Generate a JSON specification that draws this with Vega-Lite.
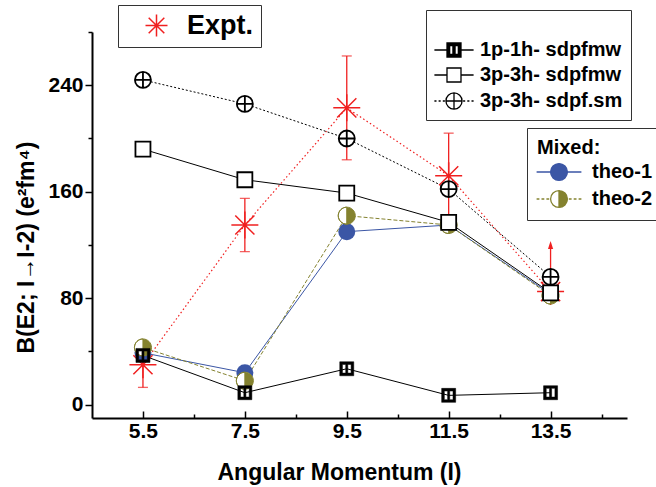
{
  "$schema": "https://vega.github.io/schema/vega-lite/v6.json",
  "autosize": {"type": "none"},
  "width": 535,
  "height": 386,
  "padding": {"left": 92, "top": 32, "right": 29, "bottom": 69},
  "background": "white",
  "config": {
    "view": {"stroke": null},
    "axis": {
      "labelFont": "Liberation Sans", "labelFontWeight": "bold", "labelFontSize": 21, "labelColor": "black",
      "titleFont": "Liberation Sans", "titleFontWeight": "bold", "titleFontSize": 23, "titleColor": "black",
      "domainColor": "black", "domainWidth": 2, "tickColor": "black", "tickWidth": 1.5, "grid": false
    },
    "legend": {
      "labelFont": "Liberation Sans", "labelFontWeight": "bold", "labelFontSize": 20, "labelColor": "black",
      "titleFont": "Liberation Sans", "titleFontWeight": "bold", "titleFontSize": 20, "titleColor": "black",
      "fillColor": "white", "strokeColor": "#333333", "orient": "none", "direction": "vertical", "symbolSize": 196, "symbolStrokeWidth": 1.3
    }
  },
  "datasets": {
    "calc": [
      {"series": "1p-1h- sdpfmw", "I": 5.5, "B": 37},
      {"series": "1p-1h- sdpfmw", "I": 7.5, "B": 9},
      {"series": "1p-1h- sdpfmw", "I": 9.5, "B": 27},
      {"series": "1p-1h- sdpfmw", "I": 11.5, "B": 7},
      {"series": "1p-1h- sdpfmw", "I": 13.5, "B": 9},
      {"series": "3p-3h- sdpfmw", "I": 5.5, "B": 192},
      {"series": "3p-3h- sdpfmw", "I": 7.5, "B": 169},
      {"series": "3p-3h- sdpfmw", "I": 9.5, "B": 159},
      {"series": "3p-3h- sdpfmw", "I": 11.5, "B": 137},
      {"series": "3p-3h- sdpfmw", "I": 13.5, "B": 84},
      {"series": "3p-3h- sdpf.sm", "I": 5.5, "B": 244},
      {"series": "3p-3h- sdpf.sm", "I": 7.5, "B": 226},
      {"series": "3p-3h- sdpf.sm", "I": 9.5, "B": 200},
      {"series": "3p-3h- sdpf.sm", "I": 11.5, "B": 162},
      {"series": "3p-3h- sdpf.sm", "I": 13.5, "B": 96},
      {"series": "theo-1", "I": 5.5, "B": 39},
      {"series": "theo-1", "I": 7.5, "B": 24},
      {"series": "theo-1", "I": 9.5, "B": 130},
      {"series": "theo-1", "I": 11.5, "B": 135},
      {"series": "theo-1", "I": 13.5, "B": 83},
      {"series": "theo-2", "I": 5.5, "B": 43},
      {"series": "theo-2", "I": 7.5, "B": 18},
      {"series": "theo-2", "I": 9.5, "B": 142},
      {"series": "theo-2", "I": 11.5, "B": 135},
      {"series": "theo-2", "I": 13.5, "B": 82}
    ],
    "expt": [
      {"series": "Expt.", "I": 5.5, "B": 30, "lo": 13, "hi": 47, "kind": "err"},
      {"series": "Expt.", "I": 7.5, "B": 135, "lo": 115, "hi": 155, "kind": "err"},
      {"series": "Expt.", "I": 9.5, "B": 223, "lo": 184, "hi": 262, "kind": "err"},
      {"series": "Expt.", "I": 11.5, "B": 172, "lo": 136, "hi": 204, "kind": "err"},
      {"series": "Expt.", "I": 13.5, "B": 85, "lo": 85, "hi": 120, "kind": "limit"}
    ]
  },
  "encoding": {
    "x": {"field": "I", "type": "quantitative",
      "scale": {"domain": [4.5, 15], "nice": false, "zero": false},
      "axis": {"title": "Angular Momentum (I)", "values": [5.5, 6.5, 7.5, 8.5, 9.5, 10.5, 11.5, 12.5, 13.5, 14.5],
        "format": ".1f",
        "labelExpr": "(datum.value - 5.5) % 2 == 0 ? datum.label : ''",
        "tickSize": {"condition": {"test": "(datum.value - 5.5) % 2 == 0", "value": -7}, "value": -4},
        "labelPadding": 9,
        "titleX": 247, "titleY": 61, "titleBaseline": "alphabetic"}},
    "y": {"field": "B", "type": "quantitative",
      "scale": {"domain": [-10, 280], "nice": false, "zero": false},
      "axis": {"title": "B(E2; I→I-2) (e²fm⁴)", "values": [0, 40, 80, 120, 160, 200, 240, 280],
        "labelExpr": "datum.value % 80 == 0 ? datum.label : ''",
        "tickSize": {"condition": {"test": "datum.value % 80 == 0", "value": 7}, "value": 4},
        "labelPadding": 2,
        "titleX": -66, "titleY": 215, "titleBaseline": "middle", "titleAlign": "center", "titleAngle": -90}}
  },
  "layer": [
    {"data": {"name": "expt"}, "mark": {"type": "line", "color": "#f02020", "strokeWidth": 1.2, "strokeDash": [1.5, 2.5]}},
    {"data": {"name": "calc"}, "transform": [{"filter": "datum.series == 'theo-1'"}], "mark": {"type": "line", "color": "#3b56a5", "strokeWidth": 1}},
    {"data": {"name": "calc"}, "transform": [{"filter": "datum.series == 'theo-2'"}], "mark": {"type": "line", "color": "#84822f", "strokeWidth": 1, "strokeDash": [4, 2]}},
    {"data": {"name": "calc"}, "transform": [{"filter": "datum.series == '1p-1h- sdpfmw'"}], "mark": {"type": "line", "color": "black", "strokeWidth": 1}},
    {"data": {"name": "calc"}, "transform": [{"filter": "datum.series == '3p-3h- sdpfmw'"}], "mark": {"type": "line", "color": "black", "strokeWidth": 1}},
    {"data": {"name": "calc"}, "transform": [{"filter": "datum.series == '3p-3h- sdpf.sm'"}], "mark": {"type": "line", "color": "black", "strokeWidth": 1, "strokeDash": [2, 2]}},
    {"data": {"name": "expt"}, "mark": {"type": "rule", "color": "#f02020", "strokeWidth": 1.3},
      "encoding": {"y": {"field": "lo", "type": "quantitative"}, "y2": {"field": "hi"}}},
    {"data": {"name": "expt"}, "transform": [{"filter": "datum.kind == 'err'"}], "mark": {"type": "tick", "orient": "horizontal", "color": "#f02020", "size": 10, "thickness": 1.3},
      "encoding": {"y": {"field": "lo", "type": "quantitative"}}},
    {"data": {"name": "expt"}, "transform": [{"filter": "datum.kind == 'err'"}], "mark": {"type": "tick", "orient": "horizontal", "color": "#f02020", "size": 10, "thickness": 1.3},
      "encoding": {"y": {"field": "hi", "type": "quantitative"}}},
    {"data": {"name": "expt"}, "transform": [{"filter": "datum.kind == 'limit'"}], "mark": {"type": "point", "shape": "M0,-1L0.65,1H-0.65Z", "filled": true, "color": "#f02020", "size": 64, "opacity": 1},
      "encoding": {"y": {"field": "hi", "type": "quantitative"}}},
    {"data": {"name": "expt"}, "mark": {"type": "point", "shape": "M0,-1V1M-1,0H1M-0.71,-0.71L0.71,0.71M-0.71,0.71L0.71,-0.71", "filled": false, "color": "#f02020", "strokeWidth": 1.5, "size": 729, "opacity": 1}},
    {"data": {"name": "calc"}, "transform": [{"filter": "datum.series == 'theo-1'"}], "mark": {"type": "point", "shape": "circle", "filled": true, "color": "#3b56a5", "size": 289, "opacity": 1}},
    {"data": {"name": "calc"}, "transform": [{"filter": "datum.series == 'theo-2'"}], "mark": {"type": "point", "shape": "circle", "filled": true, "color": "white", "size": 289, "opacity": 1}},
    {"data": {"name": "calc"}, "transform": [{"filter": "datum.series == 'theo-2'"}], "mark": {"type": "point", "shape": "M0,-1A1,1 0 0,1 0,1A1,1 0 0,1 0,-1Z M0,-1A1,1 0 0,0 0,1Z", "filled": true, "fill": "#84822f", "stroke": "#84822f", "strokeWidth": 1, "size": 289, "opacity": 1}},
    {"data": {"name": "calc"}, "transform": [{"filter": "datum.series == '1p-1h- sdpfmw'"}], "mark": {"type": "point", "shape": "M-1,-1H1V1H-1Z M-0.62,-0.62V0.62H-0.15V-0.62Z M0.15,-0.62V0.62H0.62V-0.62Z", "filled": true, "fill": "black", "stroke": "black", "strokeWidth": 0.5, "size": 196, "opacity": 1}},
    {"data": {"name": "calc"}, "transform": [{"filter": "datum.series == '3p-3h- sdpfmw'"}], "mark": {"type": "point", "shape": "square", "filled": true, "fill": "white", "stroke": "black", "strokeWidth": 1.8, "size": 225, "opacity": 1}},
    {"data": {"name": "calc"}, "transform": [{"filter": "datum.series == '3p-3h- sdpf.sm'"}], "mark": {"type": "point", "shape": "M-1,0A1,1 0 1,0 1,0A1,1 0 1,0 -1,0Z M-1,0H1M0,-1V1", "filled": true, "fill": "white", "stroke": "black", "strokeWidth": 1.8, "size": 256, "opacity": 1}},
    {"data": {"name": "expt"}, "transform": [{"filter": "false"}], "mark": {"type": "point", "opacity": 1},
      "encoding": {
        "shape": {"field": "series", "type": "nominal", "scale": {"domain": ["Expt."], "range": ["M0,-1V1M-1,0H1M-0.71,-0.71L0.71,0.71M-0.71,0.71L0.71,-0.71"]},
          "legend": {"title": null, "legendX": 26, "legendY": -27, "padding": 7, "symbolSize": 484, "symbolStrokeWidth": 1.5, "symbolOffset": 18, "labelOffset": 17, "labelFontSize": 27}},
        "stroke": {"field": "series", "type": "nominal", "scale": {"domain": ["Expt."], "range": ["#f02020"]}, "legend": {"title": null}},
        "fill": {"field": "series", "type": "nominal", "scale": {"domain": ["Expt."], "range": ["transparent"]}, "legend": {"title": null}}
      }},
    {"data": {"name": "calc"}, "transform": [{"filter": "false"}], "mark": {"type": "point", "opacity": 1},
      "encoding": {
        "shape": {"field": "series", "type": "nominal", "scale": {"domain": ["1p-1h- sdpfmw", "3p-3h- sdpfmw", "3p-3h- sdpf.sm"], "range": [
          "M-2.8,0H-1M1,0H2.8M-1,-1H1V1H-1Z M-0.62,-0.62V0.62H-0.15V-0.62Z M0.15,-0.62V0.62H0.62V-0.62Z",
          "M-2.8,0H-1M1,0H2.8M-1,-1H1V1H-1Z",
          "M-2.8,0H-2.5M-2.2,0H-1.9M-1.6,0H-1.3M1.3,0H1.6M1.9,0H2.2M2.5,0H2.8M-1.15,0A1.15,1.15 0 1,0 1.15,0A1.15,1.15 0 1,0 -1.15,0Z M-1.15,0H1.15M0,-1.15V1.15"]},
          "legend": {"title": "\u00a0", "legendX": 334, "legendY": -22, "padding": 8, "symbolOffset": 10, "labelOffset": 16, "rowPadding": 5, "titlePadding": 2}},
        "stroke": {"field": "series", "type": "nominal", "scale": {"domain": ["1p-1h- sdpfmw", "3p-3h- sdpfmw", "3p-3h- sdpf.sm"], "range": ["black", "black", "black"]}, "legend": {"title": "\u00a0"}},
        "fill": {"field": "series", "type": "nominal", "scale": {"domain": ["1p-1h- sdpfmw", "3p-3h- sdpfmw", "3p-3h- sdpf.sm"], "range": ["black", "white", "white"]}, "legend": {"title": "\u00a0"}}
      }},
    {"data": {"name": "calc"}, "transform": [{"filter": "false"}], "mark": {"type": "point", "opacity": 1},
      "encoding": {
        "shape": {"field": "series", "type": "nominal", "scale": {"domain": ["theo-1", "theo-2"], "range": [
          "M-3.2,0H-1.2M1.2,0H3.2M-1.2,0A1.2,1.2 0 1,0 1.2,0A1.2,1.2 0 1,0 -1.2,0Z",
          "M-3.2,0H-2.8M-2.5,0H-2.1M-1.8,0H-1.4M1.4,0H1.8M2.1,0H2.5M2.8,0H3.2M0,-1.2A1.2,1.2 0 0,1 0,1.2A1.2,1.2 0 0,1 0,-1.2Z M0,-1.2A1.2,1.2 0 0,0 0,1.2Z"]},
          "legend": {"title": "Mixed:", "legendX": 435, "legendY": 96, "padding": 10, "symbolOffset": 12, "labelOffset": 23, "rowPadding": 5, "titlePadding": 4}},
        "stroke": {"field": "series", "type": "nominal", "scale": {"domain": ["theo-1", "theo-2"], "range": ["#3b56a5", "#84822f"]}, "legend": {"title": "Mixed:"}},
        "fill": {"field": "series", "type": "nominal", "scale": {"domain": ["theo-1", "theo-2"], "range": ["#3b56a5", "#84822f"]}, "legend": {"title": "Mixed:"}}
      }}
  ],
  "resolve": {"scale": {"shape": "independent", "stroke": "independent", "fill": "independent"}}
}
